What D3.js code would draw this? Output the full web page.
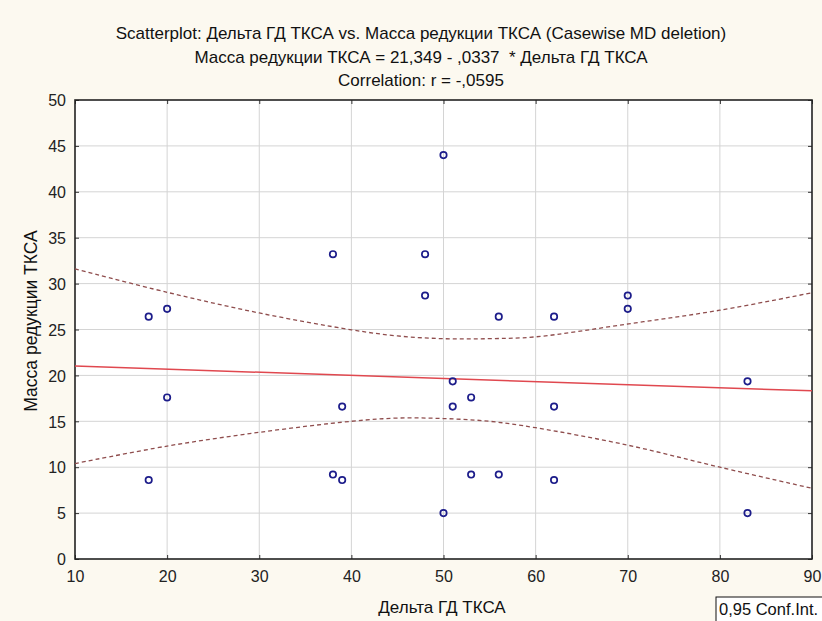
<!DOCTYPE html>
<html><head><meta charset="utf-8">
<script src="https://cdn.jsdelivr.net/npm/d3@7"></script>
<style>
html,body{margin:0;padding:0;background:#fcf9f0;}
svg{display:block;font-family:"Liberation Sans",Arial,sans-serif;}
</style></head>
<body>
<svg id="c" width="822" height="621"></svg>
<script>
const titleLines = [
  "Scatterplot: Дельта ГД ТКСА vs. Масса редукции ТКСА (Casewise MD deletion)",
  "Масса редукции ТКСА = 21,349 - ,0337  * Дельта ГД ТКСА",
  "Correlation: r = -,0595"
];
const xLabel = "Дельта ГД ТКСА";
const yLabel = "Масса редукции ТКСА";
const legendText = "0,95 Conf.Int.";

const xTicks = [10,20,30,40,50,60,70,80,90];
const yTicks = [0,5,10,15,20,25,30,35,40,45,50];

const deltaGD = [50,38,48,48,18,20,56,62,70,70,20,18,39,38,39,50,51,51,53,53,56,62,62,83,83];
const massRed = [44,33.2,33.2,28.7,26.4,27.25,26.4,26.4,28.7,27.25,17.6,8.6,16.6,9.2,8.6,5.0,19.35,16.6,17.6,9.2,9.2,16.6,8.6,19.35,5.0];

const regIntercept = 21.349;
const regSlope = -0.0337;

const bandX = [10,20,30,40,45,50,55,60,70,80,90];
const bandUpper = [31.6,29.05,26.8,24.97,24.3,24.0,24.0,24.2,25.6,27.1,29.0];
const bandLower = [10.4,12.3,13.8,15.0,15.35,15.3,15.0,14.3,12.4,10.0,7.7];

const svg = d3.select("#c");
const L=75, T=100, R=812, B=559;
const x = d3.scaleLinear().domain([10,90]).range([L,R]);
const y = d3.scaleLinear().domain([0,50]).range([B,T]);

// title
svg.append("g").selectAll("text").data(titleLines).join("text")
  .attr("x",421).attr("y",(d,i)=>39+i*23.5)
  .attr("text-anchor","middle").attr("font-size",17).attr("fill","#111")
  .style("white-space","pre")
  .text(d=>d);

// plot background
svg.append("rect").attr("x",L).attr("y",T).attr("width",R-L).attr("height",B-T).attr("fill","#fff");

// grid
const grid = svg.append("g").attr("stroke","#d4d4d4").attr("stroke-width",1);
grid.selectAll("line.v").data(xTicks.slice(1,-1)).join("line")
  .attr("x1",d=>x(d)).attr("x2",d=>x(d)).attr("y1",T).attr("y2",B);
grid.selectAll("line.h").data(yTicks.slice(1,-1)).join("line")
  .attr("class","h")
  .attr("y1",d=>y(d)).attr("y2",d=>y(d)).attr("x1",L).attr("x2",R);

// axes (inside ticks)
const axB = svg.append("g").attr("transform",`translate(0,${B})`)
  .call(d3.axisBottom(x).tickValues(xTicks).tickSize(-4).tickPadding(9).tickFormat(d3.format("d")));
const axT = svg.append("g").attr("transform",`translate(0,${T})`)
  .call(d3.axisTop(x).tickValues(xTicks).tickSize(-4).tickFormat(""));
const axL = svg.append("g").attr("transform",`translate(${L},0)`)
  .call(d3.axisLeft(y).tickValues(yTicks).tickSize(-4).tickPadding(9).tickFormat(d3.format("d")));
const axR = svg.append("g").attr("transform",`translate(${R},0)`)
  .call(d3.axisRight(y).tickValues(yTicks).tickSize(-4).tickFormat(""));
[axB,axT,axL,axR].forEach(a=>{
  a.selectAll(".domain").remove();
  a.selectAll(".tick line").attr("stroke","#333");
  a.selectAll("text").attr("font-size",16).attr("fill","#222").attr("font-family","Liberation Sans, Arial, sans-serif");
});
axL.selectAll(".tick text").attr("dy","0.36em");
axB.selectAll(".tick text").attr("dy","0.85em");

// frame
svg.append("rect").attr("x",L).attr("y",T).attr("width",R-L).attr("height",B-T)
  .attr("fill","none").attr("stroke","#222").attr("stroke-width",1.6);

// confidence band
const line = d3.line().curve(d3.curveCatmullRom).x(d=>x(d[0])).y(d=>y(d[1]));
[bandUpper,bandLower].forEach(arr=>{
  svg.append("path").datum(bandX.map((v,i)=>[v,arr[i]]))
    .attr("d",line).attr("fill","none").attr("stroke","#8f4d4d")
    .attr("stroke-width",1.3).attr("stroke-dasharray","4,3");
});

// regression line
svg.append("line")
  .attr("x1",x(10)).attr("y1",y(regIntercept+regSlope*10))
  .attr("x2",x(90)).attr("y2",y(regIntercept+regSlope*90))
  .attr("stroke","#e0484f").attr("stroke-width",1.5);

// points
svg.append("g").selectAll("circle").data(deltaGD.map((v,i)=>[v,massRed[i]])).join("circle")
  .attr("cx",d=>x(d[0])).attr("cy",d=>y(d[1])).attr("r",3.2)
  .attr("fill","none").attr("stroke","#1c1c8a").attr("stroke-width",1.7);

// axis labels
svg.append("text").attr("x",442).attr("y",613).attr("text-anchor","middle")
  .attr("font-size",17).attr("fill","#111").text(xLabel);
svg.append("text").attr("transform","translate(37,321) rotate(-90)").attr("text-anchor","middle")
  .attr("font-size",17.5).attr("fill","#111").text(yLabel);

// legend box
svg.append("rect").attr("x",716).attr("y",597).attr("width",120).attr("height",40)
  .attr("fill","#fff").attr("stroke","#111").attr("stroke-width",1);
svg.append("text").attr("x",719).attr("y",615).attr("font-size",16.5).attr("fill","#111").text(legendText);
</script>
</body></html>
